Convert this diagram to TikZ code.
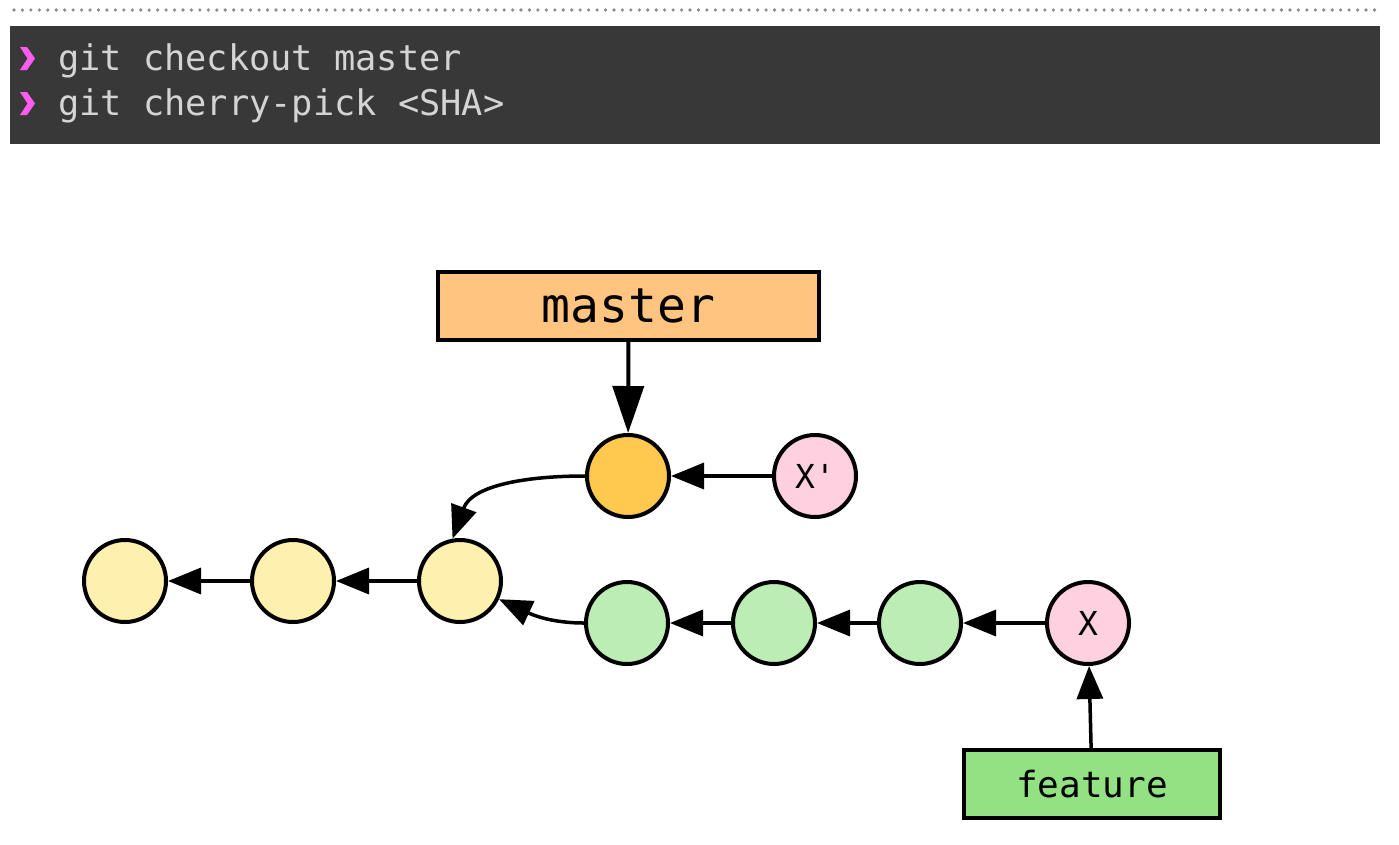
\documentclass[tikz,border=0pt]{standalone}
\usepackage{fontspec}
\setmonofont{DejaVu Sans Mono}
\usetikzlibrary{arrows.meta}
\definecolor{termbg}{HTML}{383838}
\definecolor{termfg}{HTML}{D4D4D4}
\definecolor{chev}{HTML}{FF5CF0}
\definecolor{dotgray}{HTML}{8C8C8C}
\definecolor{cyellow}{HTML}{FEF0AE}
\definecolor{cgreen}{HTML}{BCEDB5}
\definecolor{cpink}{HTML}{FFD0DF}
\definecolor{corange}{HTML}{FFC94F}
\definecolor{bmaster}{HTML}{FFC47F}
\definecolor{bfeature}{HTML}{92E283}
\tikzset{
  commit/.style={circle, draw=black, line width=4pt, minimum size=82pt, inner sep=0pt, font=\ttfamily\fontsize{33}{33}\selectfont},
  branchbox/.style={rectangle, draw=black, line width=4pt, inner sep=0pt, font=\ttfamily},
  edge/.style={line width=3.5pt, -{Triangle[length=33pt,width=26pt]}},
  bigedge/.style={line width=4pt, -{Triangle[length=47pt,width=31pt]}},
  termtxt/.style={anchor=base west, inner sep=0pt, text=termfg, font=\ttfamily\fontsize{35.3}{35.3}\selectfont},
  chevron/.style={fill=chev, draw=none}
}
\begin{document}
\begin{tikzpicture}[x=1pt,y=-1pt]
\useasboundingbox (0,0) rectangle (1399,844);
\fill[white] (0,0) rectangle (1399,844);
% dotted rule
\draw[dotgray, line width=3.6pt, line cap=round, dash pattern=on 0pt off 8.45pt] (14,10) -- (1378,10);
% terminal
\fill[termbg] (10,26) rectangle (1380,144);
\fill[chevron] (20,47) -- (27,47) -- (35,58.5) -- (27,70) -- (20,70) -- (27.5,58.5) -- cycle;
\fill[chevron] (20,92) -- (27,92) -- (35,103.5) -- (27,115) -- (20,115) -- (27.5,103.5) -- cycle;
\node[termtxt] (cmd1) at (58,70) {git checkout master};
\node[termtxt] (cmd2) at (58,115) {git cherry-pick <SHA>};
% branch labels
\node[branchbox, fill=bmaster, minimum width=381pt, minimum height=68pt, font=\ttfamily\fontsize{48}{48}\selectfont] (master) at (628.5,306) {master};
\node[branchbox, fill=bfeature, minimum width=256pt, minimum height=68pt, font=\ttfamily\fontsize{36}{36}\selectfont] (feature) at (1092,784) {feature};
% commits
\node[commit, fill=cyellow] (y1) at (125,581) {};
\node[commit, fill=cyellow] (y2) at (293,581) {};
\node[commit, fill=cyellow] (y3) at (460,581) {};
\node[commit, fill=corange] (o) at (628,476) {};
\node[commit, fill=cpink] (xp) at (815,476) {X'};
\node[commit, fill=cgreen] (g1) at (627,623) {};
\node[commit, fill=cgreen] (g2) at (774,623) {};
\node[commit, fill=cgreen] (g3) at (920,623) {};
\node[commit, fill=cpink] (x) at (1088,623) {X};
% edges
\draw[bigedge] (master) -- (o);
\draw[edge] (xp) -- (o);
\draw[edge] (o.west) to[out=180, in=70] (y3.100);
\draw[edge] (y3) -- (y2);
\draw[edge] (y2) -- (y1);
\draw[edge] (g1.west) to[out=180, in=-25] (y3.-25);
\draw[edge] (g2) -- (g1);
\draw[edge] (g3) -- (g2);
\draw[edge] (x) -- (g3);
\draw[edge] (feature) -- (x);
\end{tikzpicture}
\end{document}
